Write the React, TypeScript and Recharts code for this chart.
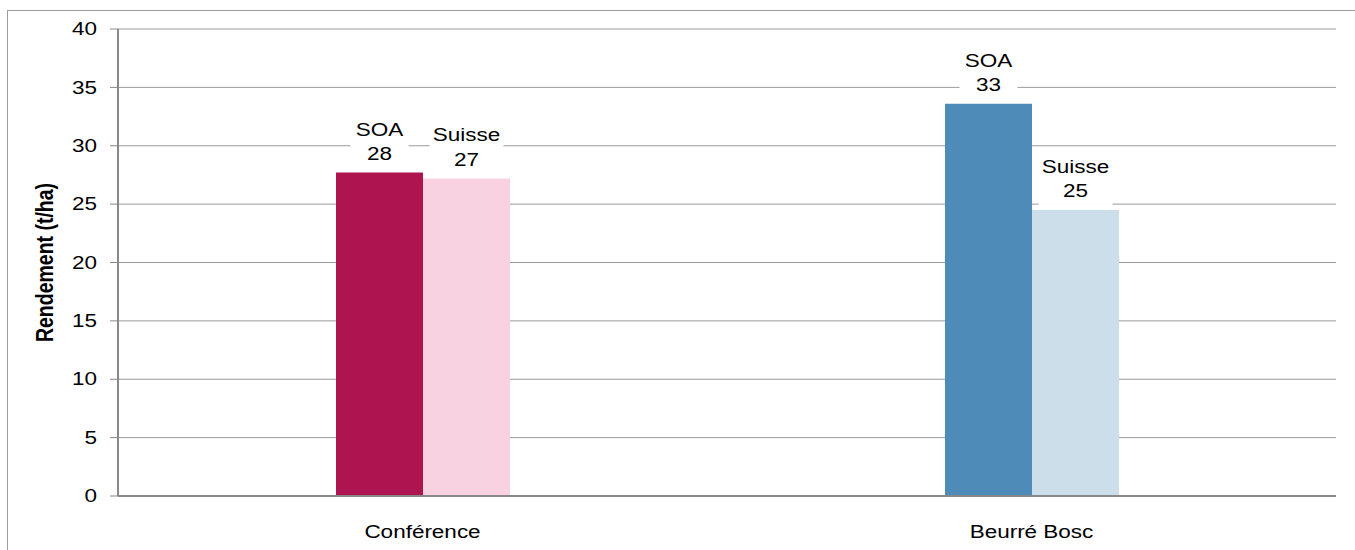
import { BarChart, Bar, XAxis, YAxis, CartesianGrid, Cell, LabelList, Label } from "recharts";

// data
const categories = ["Conférence", "Beurré Bosc"];
const soaValues = [27.7, 33.6];
const suisseValues = [27.2, 24.5];
// numbers printed above the bars
const soaLabels = ["28", "33"];
const suisseLabels = ["27", "25"];
const soaColors = ["#AE1450", "#4F8BB9"];
const suisseColors = ["#F9D2E1", "#CCDEEA"];
const yTicks = [0, 5, 10, 15, 20, 25, 30, 35, 40];

const FONT = "'Liberation Sans', Arial, sans-serif";
const STRETCH = 1.25; // the original text is a bit wider than normal
const AXIS = "#888888";

const data = categories.map((name, i) => ({
    name,
    SOA: soaValues[i],
    Suisse: suisseValues[i],
}));

// two line label (series name + value) on a white box that hides the grid
function barLabel(series: string, texts: string[], boxWidth: number) {
    return (props: any) => {
        const vb = props.viewBox || props;
        const x = Number(vb.x ?? props.x);
        const y = Number(vb.y ?? props.y);
        const width = Number(vb.width ?? props.width);
        const index = props.index ?? 0;
        const cx = x + width / 2;
        return (
            <g>
                <rect x={cx - boxWidth / 2} y={y - 56} width={boxWidth} height={51} fill="#ffffff" />
                <text transform={`translate(${cx},${y - 37}) scale(${STRETCH},1)`} textAnchor="middle"
                    fontFamily={FONT} fontSize={18} fill="#000">{series}</text>
                <text transform={`translate(${cx},${y - 12.5}) scale(${STRETCH},1)`} textAnchor="middle"
                    fontFamily={FONT} fontSize={18} fill="#000">{texts[index]}</text>
            </g>
        );
    };
}

function YTick(props: any) {
    const { x, y, payload } = props;
    return (
        <text transform={`translate(${x},${y}) scale(${STRETCH},1)`} textAnchor="end" dominantBaseline="central"
            fontFamily={FONT} fontSize={18} fill="#000">{payload.value}</text>
    );
}

function XTick(props: any) {
    const { x, y, payload } = props;
    return (
        <text transform={`translate(${x},${y + 42}) scale(${STRETCH},1)`} textAnchor="middle"
            fontFamily={FONT} fontSize={18} fill="#000">{payload.value}</text>
    );
}

function YTitle(props: any) {
    const vb = props.viewBox || {};
    const cy = Number(vb.y) + Number(vb.height) / 2;
    return (
        <text transform={`translate(45,${cy}) scale(${STRETCH},1) rotate(-90)`} textAnchor="middle" dominantBaseline="central"
            fontFamily={FONT} fontSize={19.5} fontWeight="bold" fill="#000">Rendement (t/ha)</text>
    );
}

export default function App() {
    return (
        <div style={{ position: "fixed", left: 0, top: 0, width: 1355, height: 550, overflow: "hidden", background: "#fff" }}>
            <div style={{ position: "absolute", left: 7, top: 10, width: 1400, height: 600, border: "1px solid #9c9c9c" }} />
            <div style={{ position: "absolute", left: 0, top: 0 }}>
                <BarChart width={1355} height={550} data={data}
                    margin={{ top: 29, right: 19, bottom: 0, left: 0 }}
                    barGap={0} barCategoryGap={218}>
                    <CartesianGrid vertical={false} stroke="#9a9a9a" />
                    <XAxis dataKey="name" height={54} tickLine={false} tickSize={0} tickMargin={0}
                        axisLine={{ stroke: AXIS, strokeWidth: 2 }} tick={<XTick />} interval={0} />
                    <YAxis width={118} domain={[0, 40]} ticks={yTicks} interval={0}
                        tickSize={8} tickMargin={13}
                        axisLine={{ stroke: AXIS, strokeWidth: 2 }} tickLine={{ stroke: AXIS }}
                        tick={<YTick />}>
                        <Label content={<YTitle />} />
                    </YAxis>
                    <Bar dataKey="SOA" isAnimationActive={false}>
                        {categories.map((c, i) => <Cell key={c} fill={soaColors[i]} />)}
                        <LabelList dataKey="SOA" content={barLabel("SOA", soaLabels, 58)} />
                    </Bar>
                    <Bar dataKey="Suisse" isAnimationActive={false}>
                        {categories.map((c, i) => <Cell key={c} fill={suisseColors[i]} />)}
                        <LabelList dataKey="Suisse" content={barLabel("Suisse", suisseLabels, 74)} />
                    </Bar>
                </BarChart>
            </div>
        </div>
    );
}
